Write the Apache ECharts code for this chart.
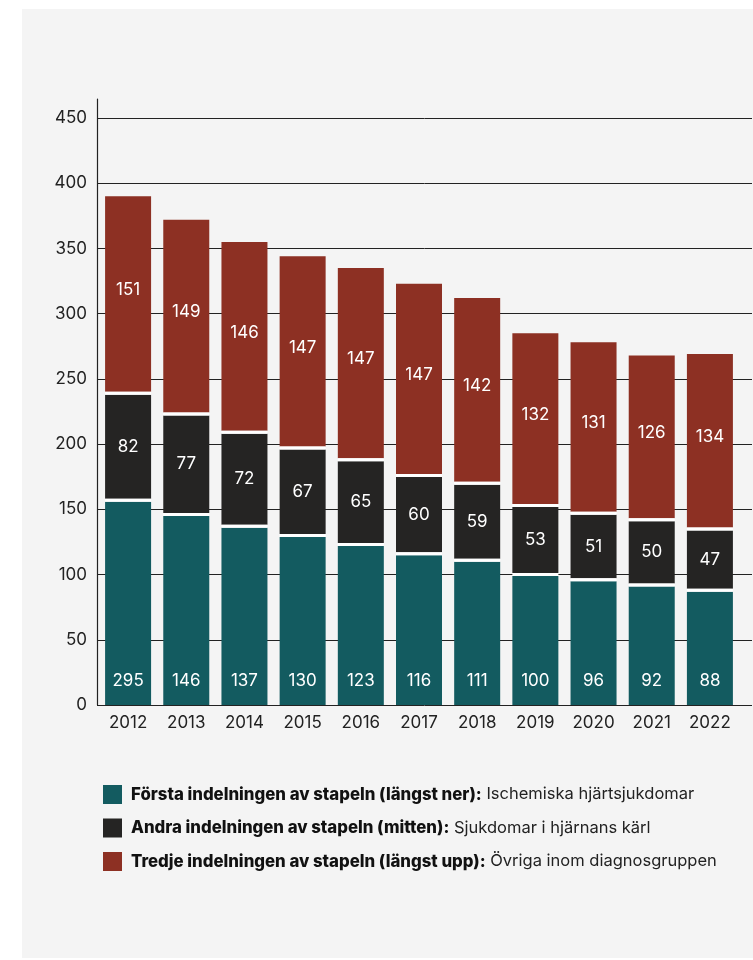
<!DOCTYPE html>
<html>
<head>
<meta charset="utf-8">
<script src="https://cdn.jsdelivr.net/npm/echarts@6/dist/echarts.min.js"></script>
<style>
  html, body { margin: 0; padding: 0; background: #ffffff; }
  #bg { position: absolute; left: 22px; top: 9px; right: 0; bottom: 2px; background: #f4f4f4; }
  #chart { position: absolute; left: 0; top: 0; width: 753px; height: 960px; }
</style>
</head>
<body>
<div id="bg"></div>
<div id="chart"></div>
<script>
// Categories (years)
const years = ['2012', '2013', '2014', '2015', '2016', '2017', '2018', '2019', '2020', '2021', '2022'];

// Bottom segment: Ischemiska hjärtsjukdomar (bar heights as drawn)
const bottomValues = [157, 146, 137, 130, 123, 116, 111, 100, 96, 92, 88];
// Labels printed on bottom segment (as printed in the source)
const bottomLabels = ['295', '146', '137', '130', '123', '116', '111', '100', '96', '92', '88'];

// Middle segment: Sjukdomar i hjärnans kärl
const middleValues = [82, 77, 72, 67, 65, 60, 59, 53, 51, 50, 47];

// Top segment: Övriga inom diagnosgruppen
const topValues = [151, 149, 146, 147, 147, 147, 142, 132, 131, 126, 134];

// Y axis ticks
const yMin = 0, yMax = 450, yStep = 50;

// Legend texts
const legendBold = [
  'Första indelningen av stapeln (längst ner):',
  'Andra indelningen av stapeln (mitten):',
  'Tredje indelningen av stapeln (längst upp):'
];
const legendNormal = [
  'Ischemiska hjärtsjukdomar',
  'Sjukdomar i hjärnans kärl',
  'Övriga inom diagnosgruppen'
];

const colors = ['#135b60', '#252423', '#8d3023'];
const FONT = 'Inter, "Noto Sans", sans-serif';

const chart = echarts.init(document.getElementById('chart'), null, { renderer: 'canvas' });

// build stacked [index, base, top] rows from the arrays
const bases1 = bottomValues.map(() => 0);
const bases2 = bottomValues.slice();
const bases3 = bottomValues.map((v, i) => v + middleValues[i]);
function rows(values, bases) {
  return values.map((v, i) => [i, bases[i], bases[i] + v]);
}

function makeRender(labels, labelPos, isTop) {
  return function (params, api) {
    const x = api.value(0), y0 = api.value(1), y1 = api.value(2);
    const pLow = api.coord([x, y0]);
    const pHigh = api.coord([x, y1]);
    const w = 46;
    const gapHalf = 1.5;
    const left = pLow[0] - w / 2;
    const bottom = y0 > 0 ? pLow[1] - gapHalf : pLow[1];
    const top = isTop ? pHigh[1] : pHigh[1] + gapHalf;
    const children = [];
    const txt = labels[params.dataIndex];
    const textConfig = labelPos === 'bottom'
      ? { position: 'insideBottom', distance: 16 }
      : { position: 'inside', offset: isTop ? [0, -4] : [0, 0] };
    children.push({
      type: 'rect',
      shape: { x: left, y: top, width: w, height: bottom - top },
      style: { fill: api.visual('color') },
      textContent: {
        style: { text: String(txt), fill: '#ffffff', fontSize: 17, fontFamily: FONT }
      },
      textConfig: textConfig
    });
    if (y0 > 0) {
      children.push({
        type: 'rect',
        shape: { x: left, y: pLow[1] - gapHalf, width: w, height: gapHalf * 2 },
        style: { fill: '#ffffff' }
      });
    }
    return { type: 'group', children: children };
  };
}

const option = {
  animation: false,
  backgroundColor: 'transparent',
  grid: [
    { left: 97, right: 1, top: 118, bottom: 255 },
    { left: 97, right: 1, top: 99, bottom: 255 },
    { left: 99, right: 14, top: 118, bottom: 255 }
  ],
  xAxis: [
    { gridIndex: 0, type: 'value', min: 0, max: 1, show: false },
    { gridIndex: 1, type: 'value', min: 0, max: 1, show: false },
    {
      gridIndex: 2, type: 'category', data: years,
      axisLine: { show: false }, axisTick: { show: false },
      axisLabel: { color: '#222', fontSize: 17, fontFamily: FONT, margin: 9 }
    }
  ],
  yAxis: [
    {
      gridIndex: 0, type: 'value', min: yMin, max: yMax, interval: yStep,
      axisLine: { show: false }, axisTick: { show: false },
      axisLabel: { color: '#222', fontSize: 17, fontFamily: FONT, margin: 10 },
      splitLine: { show: true, lineStyle: { color: '#222', width: 1 } }
    },
    {
      gridIndex: 1, type: 'value', min: 0, max: 1,
      axisLine: { show: true, lineStyle: { color: '#222', width: 1.2 } },
      axisTick: { show: false }, axisLabel: { show: false }, splitLine: { show: false }
    },
    {
      gridIndex: 2, type: 'value', min: yMin, max: yMax, interval: yStep, show: false,
      splitLine: { show: false }
    }
  ],
  legend: {
    orient: 'vertical',
    left: 103, top: 785, padding: 0,
    itemWidth: 19, itemHeight: 19, itemGap: 14.5,
    icon: 'rect',
    data: legendBold,
    formatter: function (name) {
      const i = legendBold.indexOf(name);
      return '{b|' + name + '}{n| ' + legendNormal[i] + '}';
    },
    textStyle: {
      fontFamily: FONT,
      rich: {
        b: { fontWeight: 800, fontSize: 16.8, lineHeight: 19, color: '#111', fontFamily: FONT, padding: [0, 0, 0, 4] },
        n: { fontWeight: 'normal', fontSize: 16.5, lineHeight: 19, color: '#222', fontFamily: FONT }
      }
    }
  },
  series: [
    {
      name: legendBold[0], type: 'custom', xAxisIndex: 2, yAxisIndex: 2,
      itemStyle: { color: colors[0] },
      encode: { x: 0, y: [1, 2] },
      data: rows(bottomValues, bases1),
      renderItem: makeRender(bottomLabels, 'bottom', false)
    },
    {
      name: legendBold[1], type: 'custom', xAxisIndex: 2, yAxisIndex: 2,
      itemStyle: { color: colors[1] },
      encode: { x: 0, y: [1, 2] },
      data: rows(middleValues, bases2),
      renderItem: makeRender(middleValues, 'inside', false)
    },
    {
      name: legendBold[2], type: 'custom', xAxisIndex: 2, yAxisIndex: 2,
      itemStyle: { color: colors[2] },
      encode: { x: 0, y: [1, 2] },
      data: rows(topValues, bases3),
      renderItem: makeRender(topValues, 'inside', true)
    }
  ]
};

chart.setOption(option);
</script>
</body>
</html>
